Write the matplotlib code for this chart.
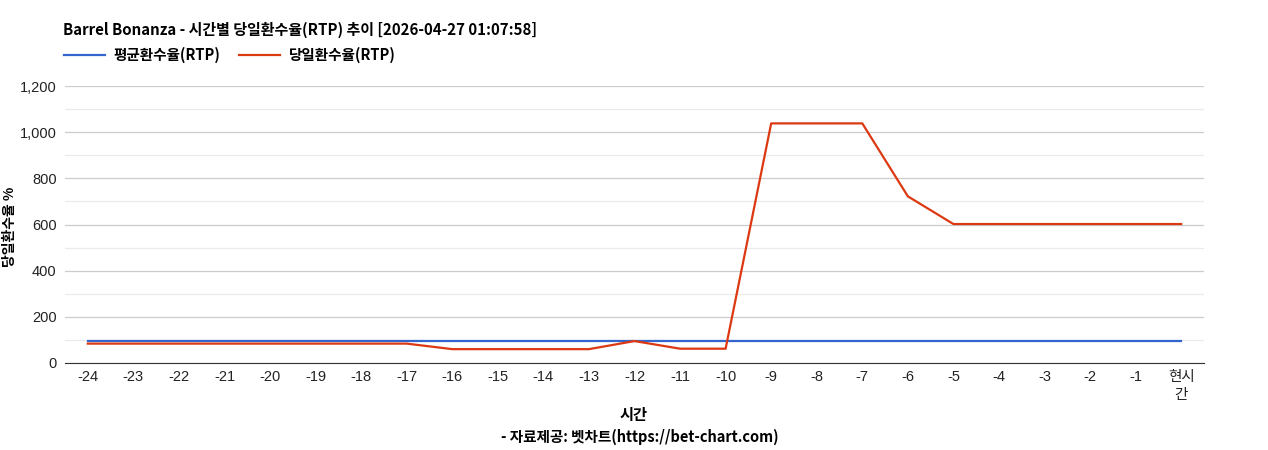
import matplotlib
matplotlib.use("Agg")
import matplotlib.pyplot as plt
from matplotlib.ticker import MultipleLocator, FuncFormatter
import numpy as np

plt.rcParams['font.family'] = ['Liberation Sans', 'Noto Sans CJK KR', 'DejaVu Sans']

# ---------- data ----------
hours = [str(h) for h in range(-24, 0)] + ["현시\n간"]
avg_rtp = [97] * 25
daily_rtp = [84, 84, 84, 84, 84, 84, 84, 84,
             60, 60, 60, 60,
             95,
             62, 62,
             1038, 1038, 1038,
             722,
             602, 602, 602, 602, 602, 602]

title = "Barrel Bonanza - 시간별 당일환수율(RTP) 추이 [2026-04-27 01:07:58]"
kr = ['Noto Sans CJK KR', 'DejaVu Sans']

fig = plt.figure(figsize=(12.68, 4.5), dpi=100)
ax = fig.add_axes([65 / 1268, 1 - 363 / 450, (1204 - 65) / 1268, (363 - 86) / 450])

x = np.arange(len(hours))
l1, = ax.plot(x, avg_rtp, color="#3366cc", lw=1.6, label="평균환수율(RTP)")
l2, = ax.plot(x, daily_rtp, color="#dc3912", lw=1.6, label="당일환수율(RTP)")

ax.set_xlim(-0.5, len(hours) - 0.5)
ax.set_ylim(0, 1200)
ax.yaxis.set_major_locator(MultipleLocator(200))
ax.yaxis.set_minor_locator(MultipleLocator(100))
ax.yaxis.set_major_formatter(FuncFormatter(lambda v, p: f"{int(v):,}"))
ax.grid(axis="y", which="major", color="#cccccc", lw=0.9)
ax.grid(axis="y", which="minor", color="#ebebeb", lw=0.9)
ax.set_axisbelow(True)

ax.set_xticks(x)
ax.set_xticklabels(hours, fontsize=10.5, color="#222222", linespacing=1.35)
ax.tick_params(axis="y", which="both", length=0, labelsize=10.5, labelcolor="#222222", pad=6)
ax.tick_params(axis="x", length=0, pad=5)
for s in ["top", "right", "left"]:
    ax.spines[s].set_visible(False)
ax.spines["bottom"].set_color("#333333")

ax.set_ylabel("당일환수율 %", fontsize=10, fontweight="bold", family=kr)
ax.yaxis.set_label_coords(-(65 - 17) / (1204 - 65), 0.49)

fig.text(63 / 1268, 1 - 30 / 450, title, fontsize=10.8, fontweight="bold",
         family=kr, va="center", ha="left")
fig.legend(handles=[l1, l2], loc="center left", bbox_to_anchor=(58 / 1268, 1 - 55 / 450),
           ncol=2, frameon=False, prop={'family': kr, 'size': 10.5, 'weight': 'bold'},
           handlelength=2.8, handletextpad=0.6, columnspacing=1.3, borderaxespad=0)

fig.text(634 / 1268, 1 - 415 / 450, "시간", fontsize=11, fontweight="bold",
         family=kr, ha="center", va="center")
fig.text(640 / 1268, 1 - 437 / 450, "- 자료제공: 벳차트(https://bet-chart.com)", fontsize=10.5,
         fontweight="bold", family=kr, ha="center", va="center")

fig.savefig("out.png", dpi=100, facecolor="white")
